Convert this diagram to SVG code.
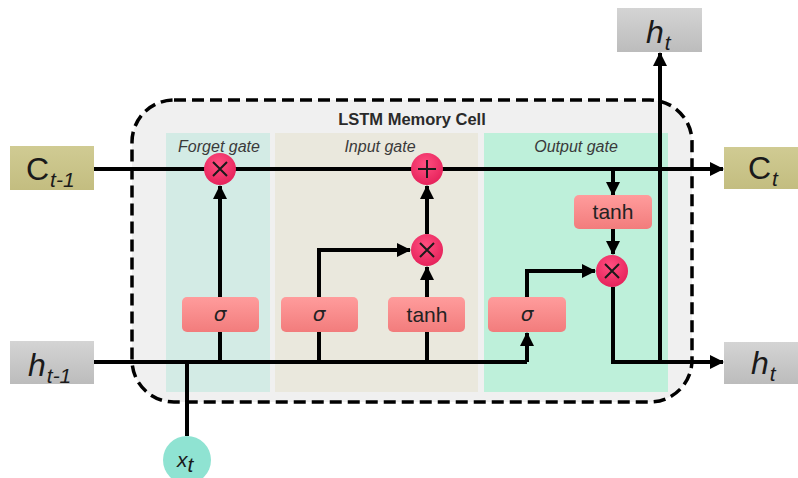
<svg xmlns="http://www.w3.org/2000/svg" width="798" height="478" viewBox="0 0 798 478">
<defs>
  <marker id="arrow" viewBox="0 0 14 14" markerWidth="14" markerHeight="14" refX="13" refY="7" orient="auto" markerUnits="userSpaceOnUse">
    <path d="M0,0 L14,7 L0,14 z" fill="#000"/>
  </marker>
  <linearGradient id="gPink" x1="0" y1="0" x2="0" y2="1">
    <stop offset="0" stop-color="#ff9c9c"/>
    <stop offset="1" stop-color="#f27c7c"/>
  </linearGradient>
  <radialGradient id="gRed" cx="0.45" cy="0.35" r="0.7">
    <stop offset="0" stop-color="#ff4f80"/>
    <stop offset="1" stop-color="#e41f58"/>
  </radialGradient>
  <linearGradient id="gGray" x1="0" y1="0" x2="0" y2="1">
    <stop offset="0" stop-color="#d4d4d4"/>
    <stop offset="1" stop-color="#bcbcbc"/>
  </linearGradient>
  <linearGradient id="gOlive" x1="0" y1="0" x2="0" y2="1">
    <stop offset="0" stop-color="#d0cb93"/>
    <stop offset="1" stop-color="#c3bd80"/>
  </linearGradient>
  <style>
    .line{stroke:#000;stroke-width:4;fill:none}
    .arr{marker-end:url(#arrow)}
    .op{fill:url(#gRed)}
    .sym{stroke:#1a1a1a;stroke-width:2;fill:none}
    .fn{fill:url(#gPink)}
    .fnt{font-family:"Liberation Sans",Arial,sans-serif;font-size:21px;fill:#222;text-anchor:middle}
    .sig{font-family:"DejaVu Sans","Liberation Sans",sans-serif;font-style:italic;font-size:20px;fill:#222;text-anchor:middle}
    .gate{font-family:"Liberation Sans",Arial,sans-serif;font-style:italic;font-size:16px;fill:#3a3a3a;text-anchor:middle}
    .title{font-family:"Liberation Sans",Arial,sans-serif;font-weight:bold;font-size:16.5px;fill:#2a2a2a;text-anchor:middle}
    .big{font-family:"Liberation Sans",Arial,sans-serif;font-size:32px;fill:#1a1a1a}
    .sub{font-family:"Liberation Sans",Arial,sans-serif;font-style:italic;font-size:21px;fill:#1a1a1a}
  </style>
</defs>
<rect width="798" height="478" fill="#ffffff"/>

<g id="cell">
  <rect x="132" y="100" width="560" height="302" rx="42" ry="42" fill="#f0f0f0" stroke="#000" stroke-width="3.5" stroke-dasharray="12,6"/>
  <text class="title" x="412" y="125">LSTM Memory Cell</text>
</g>
<g id="forget-panel">
  <rect x="166" y="133" width="104" height="259" fill="#d3ebe5"/>
  <text class="gate" x="219" y="152">Forget gate</text>
</g>
<g id="input-panel">
  <rect x="275" y="133" width="203" height="259" fill="#eae8dd"/>
  <text class="gate" x="380" y="152">Input gate</text>
</g>
<g id="output-panel">
  <rect x="484" y="133" width="184" height="259" fill="#bef0da"/>
  <text class="gate" x="576" y="152">Output gate</text>
</g>

<g id="connectors">
  <line class="line arr" x1="94" y1="169" x2="723" y2="169"/>
  <line class="line" x1="94" y1="362" x2="527" y2="362"/>
  <line class="line" x1="187" y1="436" x2="187" y2="362"/>
  <line class="line arr" x1="220" y1="362" x2="220" y2="186"/>
  <polyline class="line arr" points="319,362 319,250 410,250"/>
  <line class="line arr" x1="427" y1="362" x2="427" y2="267"/>
  <line class="line arr" x1="427" y1="234" x2="427" y2="186"/>
  <line class="line arr" x1="527" y1="362" x2="527" y2="333"/>
  <polyline class="line arr" points="527,297 527,271 595,271"/>
  <line class="line arr" x1="613" y1="169" x2="613" y2="195"/>
  <line class="line arr" x1="613" y1="229" x2="613" y2="254"/>
  <polyline class="line arr" points="613,287 613,362 723,362"/>
  <line class="line arr" x1="660" y1="362" x2="660" y2="53"/>
</g>

<g id="ct-1">
  <rect x="10" y="146" width="84" height="44" fill="url(#gOlive)"/>
  <text x="26" y="180"><tspan class="big">C</tspan><tspan class="sub" dx="1" dy="7">t-1</tspan></text>
</g>
<g id="ht-1">
  <rect x="10" y="341" width="84" height="43" fill="url(#gGray)"/>
  <text x="28" y="376"><tspan class="big" font-style="italic">h</tspan><tspan class="sub" dx="1" dy="7">t-1</tspan></text>
</g>
<g id="ct">
  <rect x="724" y="147" width="74" height="42" fill="url(#gOlive)"/>
  <text x="748" y="179"><tspan class="big">C</tspan><tspan class="sub" dx="1" dy="7">t</tspan></text>
</g>
<g id="ht-right">
  <rect x="724" y="342" width="74" height="42" fill="url(#gGray)"/>
  <text x="751" y="374"><tspan class="big" font-style="italic">h</tspan><tspan class="sub" dx="1" dy="7">t</tspan></text>
</g>
<g id="ht-top">
  <rect x="617" y="8" width="85" height="44" fill="url(#gGray)"/>
  <text x="646" y="43"><tspan class="big" font-style="italic">h</tspan><tspan class="sub" dx="1" dy="7">t</tspan></text>
</g>
<g id="xt">
  <circle cx="187" cy="460" r="24" fill="#8fe3d2"/>
  <text x="177" y="467"><tspan class="sub" font-size="24px">x</tspan><tspan class="sub" font-size="16px" dy="5">t</tspan></text>
</g>

<g id="forget-mul">
  <circle class="op" cx="220" cy="169" r="16"/>
  <path class="sym" d="M213,162 L227,176 M227,162 L213,176"/>
</g>
<g id="input-add">
  <circle class="op" cx="427" cy="169" r="16"/>
  <path class="sym" d="M427,160 L427,178 M418,169 L436,169"/>
</g>
<g id="input-mul">
  <circle class="op" cx="427" cy="250" r="16"/>
  <path class="sym" d="M420,243 L434,257 M434,243 L420,257"/>
</g>
<g id="output-mul">
  <circle class="op" cx="612" cy="271" r="16"/>
  <path class="sym" d="M605,264 L619,278 M619,264 L605,278"/>
</g>

<g id="forget-sigma">
  <rect class="fn" x="182" y="297" width="77" height="35" rx="5"/>
  <text class="sig" x="220" y="321">σ</text>
</g>
<g id="input-sigma">
  <rect class="fn" x="281" y="297" width="77" height="35" rx="5"/>
  <text class="sig" x="319" y="321">σ</text>
</g>
<g id="input-tanh">
  <rect class="fn" x="388" y="297" width="77" height="35" rx="5"/>
  <text class="fnt" x="427" y="322">tanh</text>
</g>
<g id="output-sigma">
  <rect class="fn" x="488" y="297" width="78" height="35" rx="5"/>
  <text class="sig" x="527" y="321">σ</text>
</g>
<g id="output-tanh">
  <rect class="fn" x="574" y="195" width="78" height="34" rx="5"/>
  <text class="fnt" x="613" y="219">tanh</text>
</g>
</svg>
